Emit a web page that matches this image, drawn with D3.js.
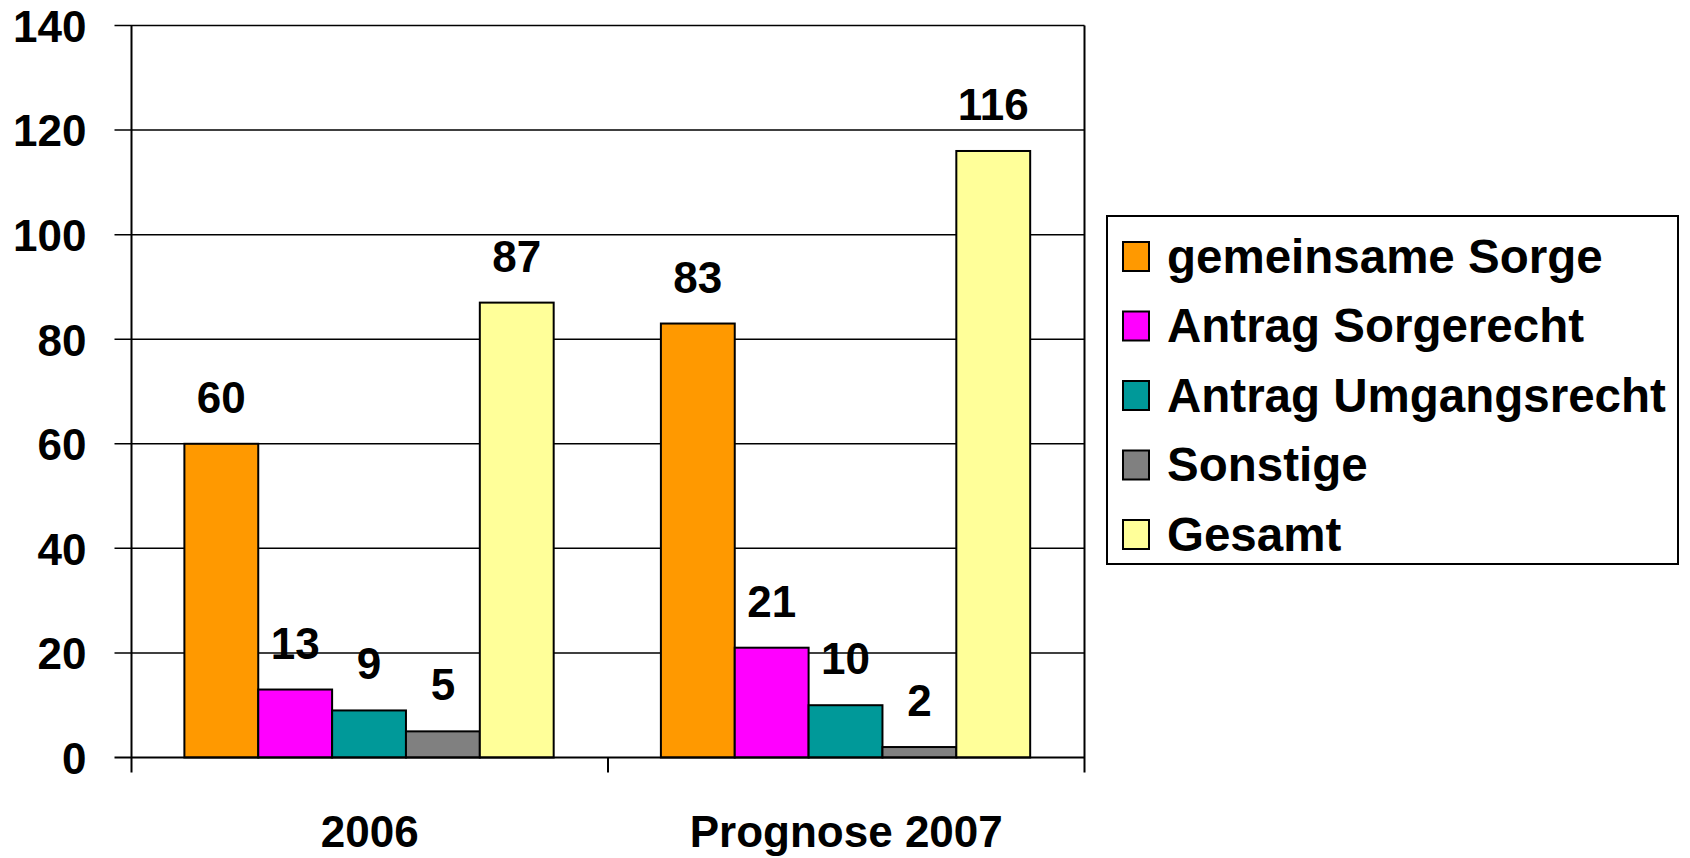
<!DOCTYPE html>
<html><head><meta charset="utf-8">
<script src="https://cdn.jsdelivr.net/npm/d3@7"></script>
<style>
html,body{margin:0;padding:0;background:#fff;}
svg text{font-family:"Liberation Sans",Arial,sans-serif;font-weight:bold;fill:#000;}
</style></head>
<body><svg id="c" width="1690" height="858"></svg>
<script>
const categories = ["2006", "Prognose 2007"];
const seriesNames = ["gemeinsame Sorge", "Antrag Sorgerecht", "Antrag Umgangsrecht", "Sonstige", "Gesamt"];
const seriesColors = ["#FF9900", "#FF00FF", "#009999", "#808080", "#FFFF99"];
const values2006 = [60, 13, 9, 5, 87];
const values2007 = [83, 21, 10, 2, 116];
const yTicks = [0, 20, 40, 60, 80, 100, 120, 140];

const valuesByCat = [values2006, values2007];
const svg = d3.select("#c");
const L = 131.5, R = 1084.5, T = 25.5, B = 757.5;
const fs = 44;

const x0 = d3.scaleBand().domain(categories).range([L, R]).padding(0);
const bw = x0.bandwidth();
const x1 = d3.scaleBand().domain(seriesNames).range([bw*0.111, bw*0.886]).padding(0);
const y = d3.scaleLinear().domain([0, 140]).range([B, T]);

// gridlines
svg.append("g").selectAll("line").data(yTicks.filter(d => d > 0)).join("line")
  .attr("x1", L - 17).attr("x2", R).attr("y1", d => y(d)).attr("y2", d => y(d))
  .attr("stroke", "#000").attr("stroke-width", 1.5);
svg.append("line").attr("x1", L - 17).attr("x2", L).attr("y1", y(0)).attr("y2", y(0))
  .attr("stroke", "#000").attr("stroke-width", 2);

// right border
svg.append("line").attr("x1", R).attr("x2", R).attr("y1", T).attr("y2", B + 15)
  .attr("stroke", "#000").attr("stroke-width", 2);

// bars
const groups = svg.append("g").selectAll("g").data(categories).join("g")
  .attr("transform", d => `translate(${x0(d)},0)`);
groups.selectAll("rect").data((c, i) => seriesNames.map((s, j) => ({s, v: valuesByCat[i][j], j})))
  .join("rect")
  .attr("x", d => x1(d.s)).attr("width", x1.bandwidth())
  .attr("y", d => y(d.v)).attr("height", d => y(0) - y(d.v))
  .attr("fill", d => seriesColors[d.j]).attr("stroke", "#000").attr("stroke-width", 2);
groups.selectAll("text").data((c, i) => seriesNames.map((s, j) => ({s, v: valuesByCat[i][j], j})))
  .join("text")
  .attr("x", d => x1(d.s) + x1.bandwidth()/2).attr("y", d => y(d.v) - 31)
  .attr("text-anchor", "middle").attr("font-size", fs).text(d => d.v);

// y axis
const yAxis = svg.append("g").attr("transform", `translate(${L},0)`)
  .call(d3.axisLeft(y).tickValues(yTicks).tickSize(0).tickPadding(45));
yAxis.select(".domain").remove();
yAxis.selectAll("text").attr("font-size", fs).attr("font-family", null).attr("dy", "0.36em");
svg.append("line").attr("x1", L).attr("x2", L).attr("y1", T).attr("y2", B + 15)
  .attr("stroke", "#000").attr("stroke-width", 2);

// x axis
const xAxis = svg.append("g").attr("transform", `translate(0,${B})`)
  .call(d3.axisBottom(x0).tickSize(0).tickPadding(58));
xAxis.select(".domain").attr("stroke-width", 2).attr("d", `M${L},0H${R}`);
xAxis.selectAll("text").attr("font-size", fs).attr("font-family", null);
svg.append("line").attr("x1", (L+R)/2).attr("x2", (L+R)/2).attr("y1", B).attr("y2", B + 15)
  .attr("stroke", "#000").attr("stroke-width", 2);

// legend
const lg = svg.append("g");
lg.append("rect").attr("x", 1107).attr("y", 216).attr("width", 571).attr("height", 348)
  .attr("fill", "#fff").attr("stroke", "#000").attr("stroke-width", 2);
const rows = lg.selectAll("g.r").data(seriesNames).join("g").attr("class", "r")
  .attr("transform", (d, i) => `translate(1123,${256.5 + i*69.5})`);
rows.append("rect").attr("x", 0).attr("y", -14.5).attr("width", 26).attr("height", 29)
  .attr("fill", (d, i) => seriesColors[i]).attr("stroke", "#000").attr("stroke-width", 2);
rows.append("text").attr("x", 44).attr("y", 16).attr("font-size", 47.5).text(d => d);
</script></body></html>
